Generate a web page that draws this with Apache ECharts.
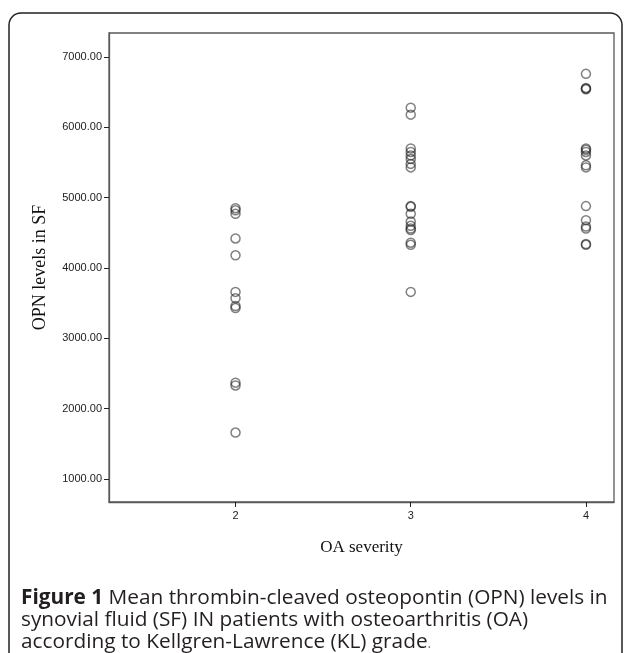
<!DOCTYPE html>
<html>
<head>
    <meta charset="utf-8">
    <title>OPN levels by OA severity</title>
    <script src="https://cdn.jsdelivr.net/npm/echarts@6/dist/echarts.min.js"></script>
    <style>
        html, body { margin: 0; padding: 0; background: #fff; }
        #main { width: 627px; height: 653px; }
    </style>
</head>
<body>
    <div id="main"></div>
    <script type="text/javascript">
        // KL grade on the x axis, OPN in SF on the y axis
        var grades = [2, 3, 4];
        var yTicks = [1000, 2000, 3000, 4000, 5000, 6000, 7000];

        // values, one array per grade
        var grade2 = [4850, 4820, 4770, 4420, 4180, 3660, 3570, 3460, 3430, 2370, 2330, 1660];
        var grade3 = [6280, 6180, 5700, 5650, 5600, 5550, 5480, 5430, 4880, 4870, 4770, 4660, 4600, 4560, 4540, 4360, 4330, 3660];
        var grade4 = [6760, 6560, 6550, 6540, 5700, 5680, 5650, 5600, 5460, 5430, 4880, 4680, 4590, 4560, 4340, 4330];

        var groups = [grade2, grade3, grade4];
        var points = [];
        groups.forEach(function (vals, i) {
            vals.forEach(function (v) {
                points.push([grades[i], v]);
            });
        });

        var capSize = 20.8;
        var capFont = capSize + 'px "Open Sans"';

        var myChart = echarts.init(document.getElementById('main'));
        myChart.setOption({
            animation: false,
            grid: {
                left: 109, top: 33, right: 13, bottom: 151,
                show: true,
                borderColor: '#5a5a5a',
                borderWidth: 1.3
            },
            xAxis: {
                type: 'value',
                min: 1.278,
                max: 4.16,
                splitLine: { show: false },
                axisLine: { lineStyle: { color: '#5a5a5a', width: 1.3 } },
                axisTick: { customValues: grades, length: 5, lineStyle: { color: '#222' } },
                axisLabel: {
                    customValues: grades,
                    color: '#222',
                    fontFamily: 'Liberation Sans',
                    fontSize: 11,
                    margin: 8
                },
                name: 'OA severity',
                nameLocation: 'middle',
                nameGap: 37,
                nameTextStyle: { fontFamily: 'Liberation Serif', fontSize: 17, color: '#111' }
            },
            yAxis: {
                type: 'value',
                min: 673,
                max: 7341,
                splitLine: { show: false },
                axisLine: { show: true, lineStyle: { color: '#5a5a5a', width: 1.3 } },
                axisTick: { show: true, customValues: yTicks, length: 5, lineStyle: { color: '#222' } },
                axisLabel: {
                    customValues: yTicks,
                    color: '#222',
                    fontFamily: 'Liberation Sans',
                    fontSize: 11,
                    margin: 7,
                    formatter: function (v) { return v.toFixed(2); }
                },
                name: 'OPN levels in SF',
                nameLocation: 'middle',
                nameRotate: 90,
                nameGap: 60,
                nameTextStyle: { fontFamily: 'Liberation Serif', fontSize: 18, color: '#111' }
            },
            series: [{
                type: 'scatter',
                data: points,
                symbol: 'circle',
                symbolSize: 9,
                itemStyle: {
                    color: 'rgba(0,0,0,0)',
                    borderColor: 'rgba(30,30,30,0.7)',
                    borderWidth: 1.5
                }
            }],
            graphic: [
                {
                    type: 'rect',
                    shape: { x: 9, y: 13, width: 613, height: 700, r: 12 },
                    style: { fill: 'none', stroke: '#222', lineWidth: 1.5 },
                    silent: true
                },
                {
                    type: 'text',
                    style: {
                        x: 21, y: 598, verticalAlign: 'middle',
                        text: '{b|Figure 1} Mean thrombin-cleaved osteopontin (OPN) levels in',
                        font: capFont,
                        fill: '#231f20',
                        rich: { b: { fontWeight: 'bold', fontSize: capSize, fontFamily: 'Open Sans', fill: '#231f20' } }
                    }
                },
                {
                    type: 'text',
                    style: { x: 21, y: 620, verticalAlign: 'middle', text: 'synovial fluid (SF) IN patients with osteoarthritis (OA)', font: capFont, fill: '#231f20' }
                },
                {
                    type: 'text',
                    style: {
                        x: 21, y: 642, verticalAlign: 'middle',
                        text: 'according to Kellgren-Lawrence (KL) grade{p|.}',
                        font: capFont, fill: '#231f20',
                        rich: { p: { fontSize: 14, fontFamily: 'Open Sans', fill: '#777', padding: [5, 0, 0, 0] } }
                    }
                }
            ]
        });
    </script>
</body>
</html>
